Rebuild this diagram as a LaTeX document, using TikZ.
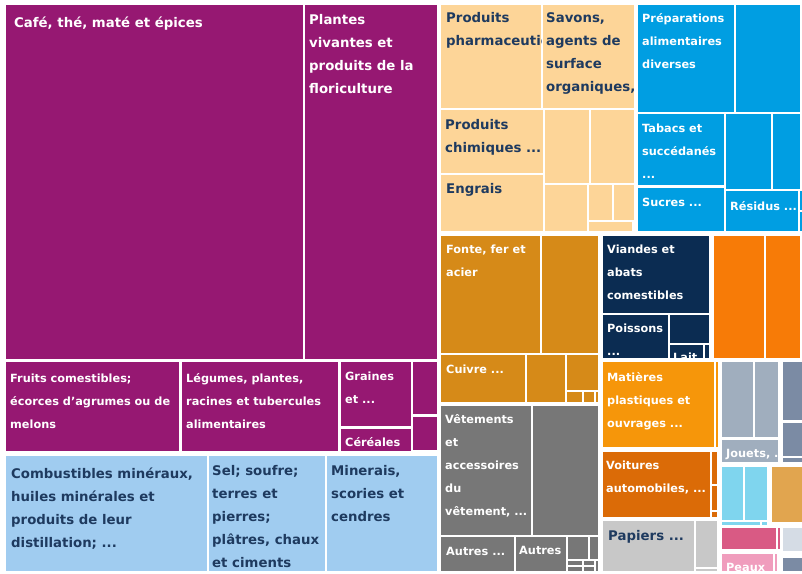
\documentclass[tikz,border=0pt]{standalone}
\usepackage{fontspec}
\setmainfont{DejaVu Sans}
\definecolor{tpurple}{RGB}{150,24,114}
\definecolor{tsky}{RGB}{160,204,240}
\definecolor{tpeach}{RGB}{253,213,152}
\definecolor{tblue}{RGB}{0,158,226}
\definecolor{tgold}{RGB}{214,138,24}
\definecolor{tgrey}{RGB}{119,119,119}
\definecolor{tnavy}{RGB}{11,44,82}
\definecolor{torange}{RGB}{247,123,7}
\definecolor{tamber}{RGB}{246,150,10}
\definecolor{trust}{RGB}{219,107,7}
\definecolor{tpaper}{RGB}{200,200,200}
\definecolor{tslate}{RGB}{160,174,190}
\definecolor{tslatedk}{RGB}{123,139,164}
\definecolor{tcyan}{RGB}{127,213,238}
\definecolor{ttan}{RGB}{225,165,79}
\definecolor{tpink}{RGB}{217,90,132}
\definecolor{tpinklt}{RGB}{240,157,189}
\definecolor{tpale}{RGB}{213,220,229}
\definecolor{txtnavy}{RGB}{30,58,95}
% labels are placed at the baseline of their last line
\tikzset{
  lab/.style={anchor=base west, inner sep=0pt, align=left, text=white,
    font=\fontsize{11.3}{23}\selectfont\bfseries},
  labbig/.style={lab, font=\fontsize{13.3}{23}\selectfont\bfseries},
  labdark/.style={labbig, text=txtnavy}
}
\begin{document}
\begin{tikzpicture}[x=1pt,y=-1pt]
  \useasboundingbox (0,0) rectangle (802,573);
  \fill[white] (0,0) rectangle (802,573);
  % tiles, one colour per group
  \foreach \xa/\ya/\xb/\yb in {6/5/303/359, 305/5/437/359, 6/362/179/451, 182/362/338/451,
      341/362/411/426, 341/429/411/451, 413/362/437/414, 413/417/437/450}
    \fill[tpurple] (\xa,\ya) rectangle (\xb,\yb);
  \foreach \xa/\ya/\xb/\yb in {6/456/207/571, 209/456/325/571, 327/456/437/571}
    \fill[tsky] (\xa,\ya) rectangle (\xb,\yb);
  \foreach \xa/\ya/\xb/\yb in {441/5/541/108, 543/5/634/108, 441/110/543/173, 441/175/543/231,
      545/110/589/183, 591/110/634/183, 545/185/587/231, 589/185/612/220, 614/185/634/220,
      589/222/632/231}
    \fill[tpeach] (\xa,\ya) rectangle (\xb,\yb);
  \foreach \xa/\ya/\xb/\yb in {638/5/734/112, 736/5/800/112, 638/114/724/185, 638/188/724/231,
      726/114/771/189, 773/114/800/189, 726/191/798/231, 800/191/801.5/210, 800/212/801.5/231}
    \fill[tblue] (\xa,\ya) rectangle (\xb,\yb);
  \foreach \xa/\ya/\xb/\yb in {441/236/540/353, 542/236/598/353, 441/355/525/402, 527/355/565/402,
      567/355/598/390, 567/392/582/402, 584/392/594/402, 596/392/598/402}
    \fill[tgold] (\xa,\ya) rectangle (\xb,\yb);
  \foreach \xa/\ya/\xb/\yb in {441/406/531/535, 533/406/598/535, 441/537/514/571, 516/537/566/571,
      568/537/588/559, 590/537/598/559, 568/561/582/565, 584/561/594/565, 568/567/582/571,
      584/567/594/571, 596/561/598/571}
    \fill[tgrey] (\xa,\ya) rectangle (\xb,\yb);
  \foreach \xa/\ya/\xb/\yb in {603/236/709/313, 603/315/668/358, 670/315/709/343, 670/345/703/358,
      705/345/709/358}
    \fill[tnavy] (\xa,\ya) rectangle (\xb,\yb);
  \foreach \xa/\ya/\xb/\yb in {714/236/764/358, 766/236/800/358}
    \fill[torange] (\xa,\ya) rectangle (\xb,\yb);
  \foreach \xa/\ya/\xb/\yb in {603/362/714/447, 716/362/718/447}
    \fill[tamber] (\xa,\ya) rectangle (\xb,\yb);
  \foreach \xa/\ya/\xb/\yb in {603/452/710/517, 712/452/717/484, 712/486/717/510, 712/512/717/517}
    \fill[trust] (\xa,\ya) rectangle (\xb,\yb);
  \foreach \xa/\ya/\xb/\yb in {603/521/694/571, 696/521/717/567, 696/569/717/571}
    \fill[tpaper] (\xa,\ya) rectangle (\xb,\yb);
  \foreach \xa/\ya/\xb/\yb in {722/362/753/437, 755/362/778/437, 722/440/778/462}
    \fill[tslate] (\xa,\ya) rectangle (\xb,\yb);
  \foreach \xa/\ya/\xb/\yb in {783/362/802/420, 783/423/802/456, 783/458/802/462, 783/558/802/571}
    \fill[tslatedk] (\xa,\ya) rectangle (\xb,\yb);
  \foreach \xa/\ya/\xb/\yb in {722/467/743/520, 745/467/767/520, 722/522/760/525, 762/522/767/525}
    \fill[tcyan] (\xa,\ya) rectangle (\xb,\yb);
  \fill[ttan] (772,467) rectangle (802,522);
  \foreach \xa/\ya/\xb/\yb in {722/528/776/549, 778/528/780/549}
    \fill[tpink] (\xa,\ya) rectangle (\xb,\yb);
  \foreach \xa/\ya/\xb/\yb in {722/554/773/571, 775/554/777/571}
    \fill[tpinklt] (\xa,\ya) rectangle (\xb,\yb);
  \fill[tpale] (783,528) rectangle (802,551);

  % labels
  \node[labbig] (cafe) at (14,27) {Café, thé, maté et épices};
  \node[labbig] (plantes) at (309,93) {Plantes\\vivantes et\\produits de la\\floriculture};
  \node[lab] (fruits) at (10,428) {Fruits comestibles;\\écorces d'agrumes ou de\\melons};
  \node[lab] (legumes) at (186,428) {Légumes, plantes,\\racines et tubercules\\alimentaires};
  \node[lab] (graines) at (345,403) {Graines\\et ...};
  \node[lab] (cereales) at (345,446) {Céréales};
  \node[labdark] (combustibles) at (11,547) {Combustibles minéraux,\\huiles minérales et\\produits de leur\\distillation; ...};
  \node[labdark] (sel) at (212,567) {Sel; soufre;\\terres et\\pierres;\\plâtres, chaux\\et ciments};
  \node[labdark] (minerais) at (331,521) {Minerais,\\scories et\\cendres};
  \begin{scope}
    \clip (441,5) rectangle (541,108);
    \node[labdark] (pharma) at (446,45) {Produits\\pharmaceutiques};
  \end{scope}
  \begin{scope}
    \clip (543,5) rectangle (634,108);
    \node[labdark] (savons) at (546,91) {Savons,\\agents de\\surface\\organiques, ...};
  \end{scope}
  \node[labdark] (chimiques) at (445,152) {Produits\\chimiques ...};
  \node[labdark] (engrais) at (446,193) {Engrais};
  \node[lab] (preparations) at (642,68) {Préparations\\alimentaires\\diverses};
  \node[lab] (tabacs) at (642,178) {Tabacs et\\succédanés\\...};
  \node[lab] (sucres) at (642,206) {Sucres ...};
  \node[lab] (residus) at (730,210) {Résidus ...};
  \node[lab] (fonte) at (446,276) {Fonte, fer et\\acier};
  \node[lab] (cuivre) at (446,373) {Cuivre ...};
  \node[lab] (vetements) at (445,515) {Vêtements\\et\\accessoires\\du\\vêtement, ...};
  \node[lab] (autresa) at (446,555) {Autres ...};
  \node[lab] (autresb) at (519,554) {Autres};
  \node[lab] (viandes) at (607,299) {Viandes et\\abats\\comestibles};
  \begin{scope}
    \clip (603,315) rectangle (668,358);
    \node[lab] (poissons) at (607,355) {Poissons\\...};
  \end{scope}
  \begin{scope}
    \clip (670,345) rectangle (703,358);
    \node[lab] (lait) at (673,361) {Lait};
  \end{scope}
  \node[lab] (matieres) at (607,427) {Matières\\plastiques et\\ouvrages ...};
  \node[lab] (voitures) at (606,492) {Voitures\\automobiles, ...};
  \node[labdark] (papiers) at (608,540) {Papiers ...};
  \begin{scope}
    \clip (722,440) rectangle (778,462);
    \node[lab] (jouets) at (726,457) {Jouets, ...};
  \end{scope}
  \begin{scope}
    \clip (722,554) rectangle (773,571);
    \node[lab] (peaux) at (726,571.5) {Peaux};
  \end{scope}
\end{tikzpicture}
\end{document}
